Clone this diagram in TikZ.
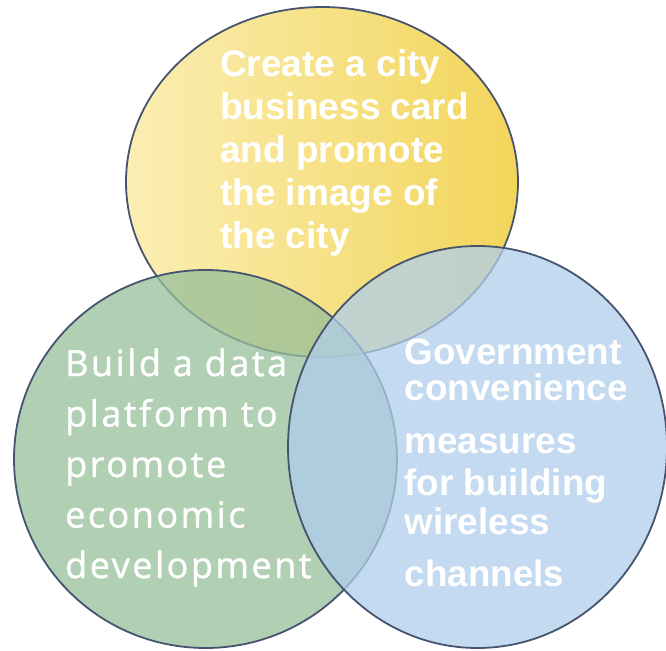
\documentclass[tikz,border=0pt]{standalone}
\usepackage{fontspec}
\setmainfont{Liberation Sans}
\newfontfamily\gfont{Open Sans}[LetterSpace=7,FakeBold=1.2]
\definecolor{yelL}{RGB}{251,238,180}
\definecolor{yelR}{RGB}{242,213,90}
\definecolor{grn}{RGB}{150,191,154}
\definecolor{blu}{RGB}{176,206,235}
\definecolor{edge}{RGB}{70,84,112}
\begin{document}
\begin{tikzpicture}[x=1pt,y=-1pt,
  ring/.style={draw=edge,line width=1.8pt},
  tinted/.style={ring,fill opacity=0.75},
  boldtxt/.style={text=white,font=\bfseries,align=left,inner sep=0pt,anchor=base west},
  greentxt/.style={text=white,align=left,inner sep=0pt,anchor=base west}]
\useasboundingbox (0,0) rectangle (666,650);
% circles
\shade[left color=yelL,right color=yelR] (322,182) ellipse [x radius=196,y radius=175];
\draw[ring] (322,182) ellipse [x radius=196,y radius=175];
\path[tinted,fill=grn] (205.5,459) ellipse [x radius=191.5,y radius=189];
\path[tinted,fill=blu] (477.5,447) ellipse [x radius=189.5,y radius=201];
% texts (anchored at the baseline of the last line)
\node[boldtxt,font=\bfseries\fontsize{37}{43}\selectfont] (ytext) at (220,248)
  {Create a city\\business card\\and promote\\the image of\\the city};
\node[greentxt,font=\gfont\fontsize{36}{50.5}\selectfont] (gtext) at (65,578)
  {Build a data\\platform to\\promote\\economic\\development};
\node[boldtxt,font=\bfseries\fontsize{36.8}{36}\selectfont] (btext) at (404.5,586)
  {Government\\convenience\\[17pt]measures\\[6pt]for building\\[3pt]wireless\\[16pt]channels};
\end{tikzpicture}
\end{document}
